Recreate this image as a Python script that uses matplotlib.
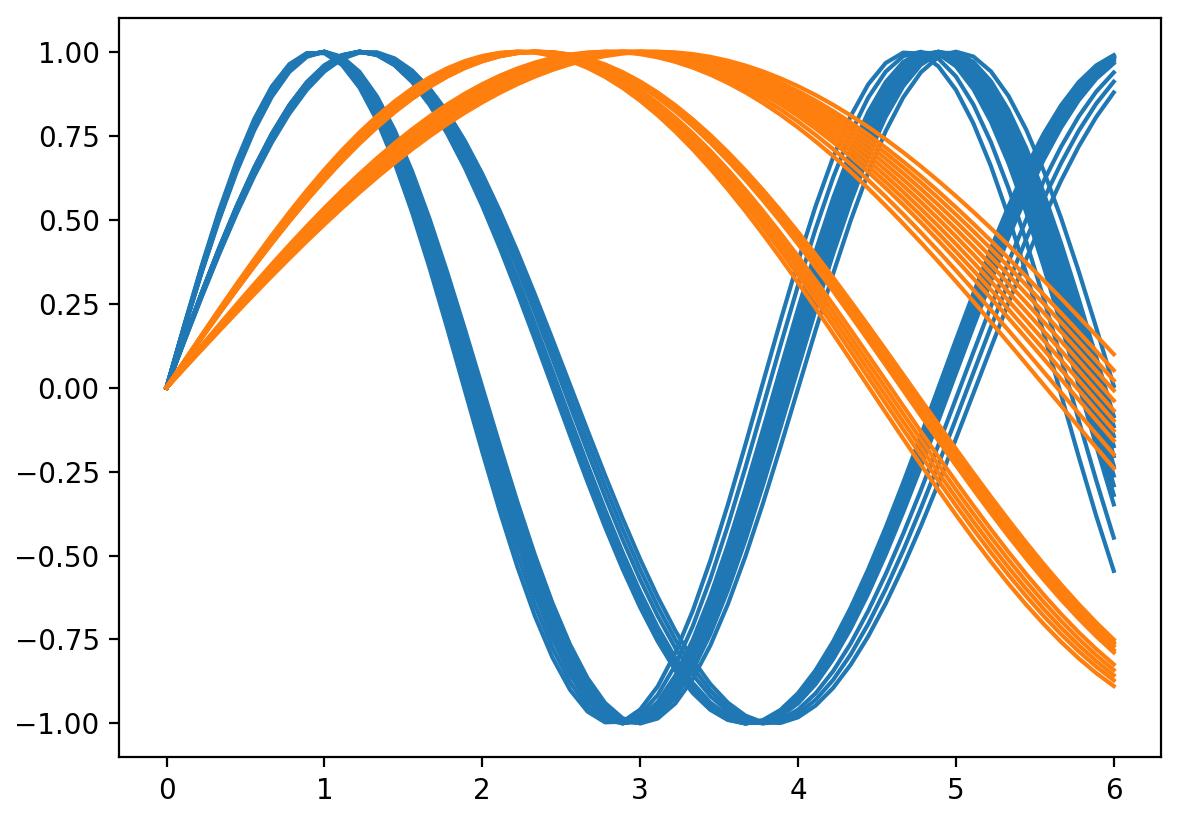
import numpy as np
import matplotlib
matplotlib.use("Agg")
import matplotlib.pyplot as plt

# angular frequencies of each sine curve, read from peak positions / end values
blue_freqs = [1.60, 1.275, 1.62, 1.27, 1.57, 1.226, 1.648, 1.285, 1.59, 1.28,
              1.615, 1.265, 1.667, 1.238, 1.605, 1.278, 1.585, 1.25, 1.63, 1.282,
              1.61, 1.625, 1.595]
orange_freqs = [0.668, 0.52, 0.665, 0.545, 0.685, 0.507, 0.675, 0.535, 0.695, 0.557,
                0.67, 0.525, 0.706, 0.564, 0.667, 0.515, 0.70, 0.54, 0.673, 0.53,
                0.55, 0.69]
x_start, x_end, n_samples = 0.0, 6.0, 55

fig = plt.figure(figsize=(5.9, 4.11), dpi=200)
ax = fig.add_axes([0.101, 0.079, 0.883, 0.899])

x = np.linspace(x_start, x_end, n_samples)
for wb in blue_freqs:
    ax.plot(x, np.sin(wb * x), color='#1f77b4')
for wo in orange_freqs:
    ax.plot(x, np.sin(wo * x), color='#ff7f0e')

fig.savefig("out.png", dpi=200)
